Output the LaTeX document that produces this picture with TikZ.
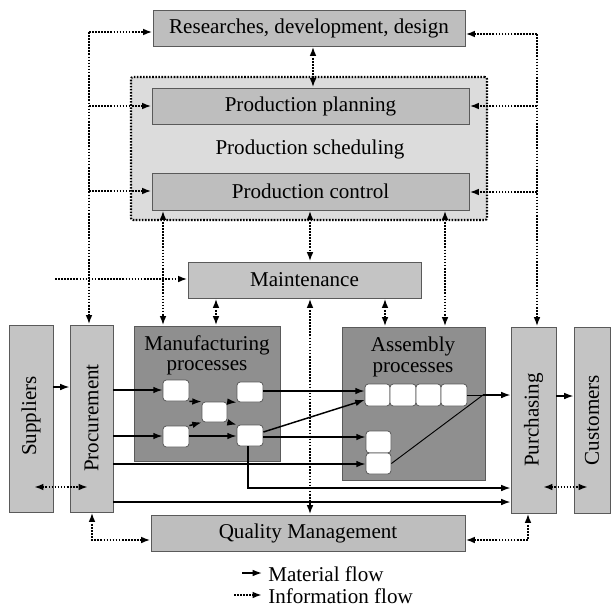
\documentclass[tikz,border=0pt]{standalone}
\usepackage{fontspec}
\setmainfont{Liberation Serif}
\usetikzlibrary{arrows.meta,fit}
\definecolor{boxgray}{HTML}{BEBEBE}
\definecolor{lightbox}{HTML}{C4C4C4}
\definecolor{framegray}{HTML}{DCDCDC}
\definecolor{darkbox}{HTML}{8F8F8F}
\definecolor{edgegray}{HTML}{5A5A5A}
\tikzset{
  box/.style={draw=edgegray, line width=0.7pt, inner sep=0pt},
  smallbox/.style={draw=edgegray, line width=0.6pt, fill=white, rounded corners=2.5pt, inner sep=0pt},
  lbl/.style={font=\fontsize{15.8}{18}\selectfont, inner sep=0pt},
  mat/.style={line width=1.1pt, -{Latex[length=7pt,width=5pt]}},
  thin/.style={line width=0.7pt},
  info/.style={line width=1.6pt, dash pattern=on 1.2pt off 1.1pt},
  infoend/.style={info, -{Latex[length=7pt,width=5pt]}},
  infoboth/.style={info, {Latex[length=7pt,width=5pt]}-{Latex[length=7pt,width=5pt]}},
}
\begin{document}
\begin{tikzpicture}[x=0.75pt,y=-0.75pt]
\useasboundingbox (0,0) rectangle (613,607);
% frame
\node[draw=black, info, fill=framegray, rounded corners=1.5pt, inner sep=0pt, fit={(131,77) (487,220)}] (frame) {};
% boxes
\node[box, fill=boxgray, fit={(153,10) (465,46)}] (rd) {};
\node[lbl] (rdt) at (rd) {Researches, development, design};
\node[box, fill=boxgray, fit={(152,88) (469,124)}] (plan) {};
\node[lbl] (plant) at (plan) {Production planning};
\node[lbl] (schedt) at (310,149) {Production scheduling};
\node[box, fill=boxgray, fit={(152,173) (469,210)}] (ctrl) {};
\node[lbl] (ctrlt) at (ctrl) {Production control};
\node[box, fill=lightbox, fit={(188,262) (421,298)}] (maint) {};
\node[lbl] (maintt) at (maint) {Maintenance};
\node[box, fill=lightbox, fit={(9,325) (53,512)}] (sup) {};
\node[lbl, rotate=90] (supt) at (31,416) {Suppliers};
\node[box, fill=lightbox, fit={(70,325) (113,512)}] (proc) {};
\node[lbl, rotate=90] (proct) at (91.5,418) {Procurement};
\node[box, fill=darkbox, fit={(134,326) (280,461)}] (manu) {};
\node[lbl] (manut1) at (207,345) {Manufacturing};
\node[lbl] (manut2) at (207,368) {processes};
\node[box, fill=darkbox, fit={(342,327) (485,480)}] (asm) {};
\node[lbl] (asmt1) at (413,346) {Assembly};
\node[lbl] (asmt2) at (413,370) {processes};
\node[box, fill=lightbox, fit={(511,327) (556,513)}] (purch) {};
\node[lbl, rotate=90] (purcht) at (533.5,420) {Purchasing};
\node[box, fill=lightbox, fit={(574,327) (610,513)}] (cust) {};
\node[lbl, rotate=90] (custt) at (592,420) {Customers};
\node[box, fill=boxgray, fit={(151,515) (465,551)}] (qm) {};
\node[lbl] (qmt) at (qm) {Quality Management};
% small boxes
\node[smallbox, fit={(163,380) (189,401)}] (m1) {};
\node[smallbox, fit={(163,426) (189,447)}] (m2) {};
\node[smallbox, fit={(202,402) (227,422)}] (m3) {};
\node[smallbox, fit={(237,382) (263,402)}] (m4) {};
\node[smallbox, fit={(237,425) (263,446)}] (m5) {};
\node[smallbox, fit={(365,384) (390,406)}] (a1) {};
\node[smallbox, fit={(390,384) (416,406)}] (a2) {};
\node[smallbox, fit={(416,384) (441,406)}] (a3) {};
\node[smallbox, fit={(441,384) (467,406)}] (a4) {};
\node[smallbox, fit={(366,431) (391,453)}] (b1) {};
\node[smallbox, fit={(366,453) (391,474)}] (b2) {};
% material flow
\draw[mat] (sup.east |- 0,387) -- (proc.west |- 0,387);
\draw[mat] (proc.east |- 0,390) -- (m1.west |- 0,390);
\draw[mat] (proc.east |- 0,436) -- (m2.west |- 0,436);
\draw[mat] (m1.south east) -- (m3.north west);
\draw[mat] (m2.north east) -- (m3.south west);
\draw[mat] (m3.north east) -- (m4.south west);
\draw[mat] (m3.south east) -- (m5.north west);
\draw[mat] (m2.east |- 0,436) -- (m5.west |- 0,436);
\draw[mat] (m4.east |- 0,391) -- (a1.west |- 0,391);
\draw[mat] (m5.east |- 0,432) -- (a1.west |- 0,400);
\draw[mat] (m5.east |- 0,437) -- (b1.west |- 0,437);
\draw[mat] (proc.east |- 0,464) -- (b2.west |- 0,464);
\draw[mat] (248,446) -- (248,488) -- (purch.west |- 0,488);
\draw[mat] (proc.east |- 0,502) -- (purch.west |- 0,502);
\coordinate (junc) at (483,395);
\draw[thin] (a4.east |- junc) -- (junc);
\draw[thin] (b2.east) -- (junc);
\draw[mat] (junc) -- (purch.west |- junc);
\draw[mat] (purch.east |- 0,396) -- (cust.west |- 0,396);
% information flow
\coordinate (lt) at (89,32);
\coordinate (rt) at (537,34);
\draw[infoend] (lt) -- (proc.north -| lt);
\draw[infoend] (lt) -- (rd.west |- lt);
\draw[infoend] (89,106) -- (plan.west |- 0,106);
\draw[infoend] (89,191) -- (ctrl.west |- 0,191);
\draw[infoend] (rt) -- (purch.north -| rt);
\draw[infoend] (rt) -- (rd.east |- rt);
\draw[infoend] (537,106) -- (plan.east |- 0,106);
\draw[infoend] (537,192) -- (ctrl.east |- 0,192);
\draw[infoboth] (rd.south -| 313,0) -- (plan.north -| 313,0);
\draw[infoboth] (ctrl.south -| 163,0) -- (manu.north -| 163,0);
\draw[infoboth] (ctrl.south -| 310,0) -- (maint.north -| 310,0);
\draw[infoboth] (ctrl.south -| 445,0) -- (asm.north -| 445,0);
\coordinate (mfree) at (55,279);
\draw[infoend] (mfree) -- (maint.west |- mfree);
\draw[infoboth] (maint.south -| 216,0) -- (manu.north -| 216,0);
\draw[infoboth] (maint.south -| 385,0) -- (asm.north -| 385,0);
\draw[infoboth] (maint.south -| 310,0) -- (qm.north -| 310,0);
\coordinate (sp1) at (34,487);
\coordinate (sp2) at (88,487);
\draw[infoboth] (sp1) -- (sp2);
\coordinate (pc1) at (543,487);
\coordinate (pc2) at (588,487);
\draw[infoboth] (pc1) -- (pc2);
\draw[infoboth] (proc.south -| 92,0) -- (92,540) -- (qm.west |- 0,540);
\draw[infoboth] (purch.south -| 528,0) -- (528,540) -- (qm.east |- 0,540);
% legend
\coordinate (lm1) at (242,573);
\coordinate (lm2) at (262,573);
\draw[mat] (lm1) -- (lm2);
\node[lbl, anchor=west] (lmt) at (268,574) {Material flow};
\coordinate (li1) at (234,595);
\coordinate (li2) at (262,595);
\draw[infoend] (li1) -- (li2);
\node[lbl, anchor=west] (lit) at (268,596) {Information flow};
\end{tikzpicture}
\end{document}
